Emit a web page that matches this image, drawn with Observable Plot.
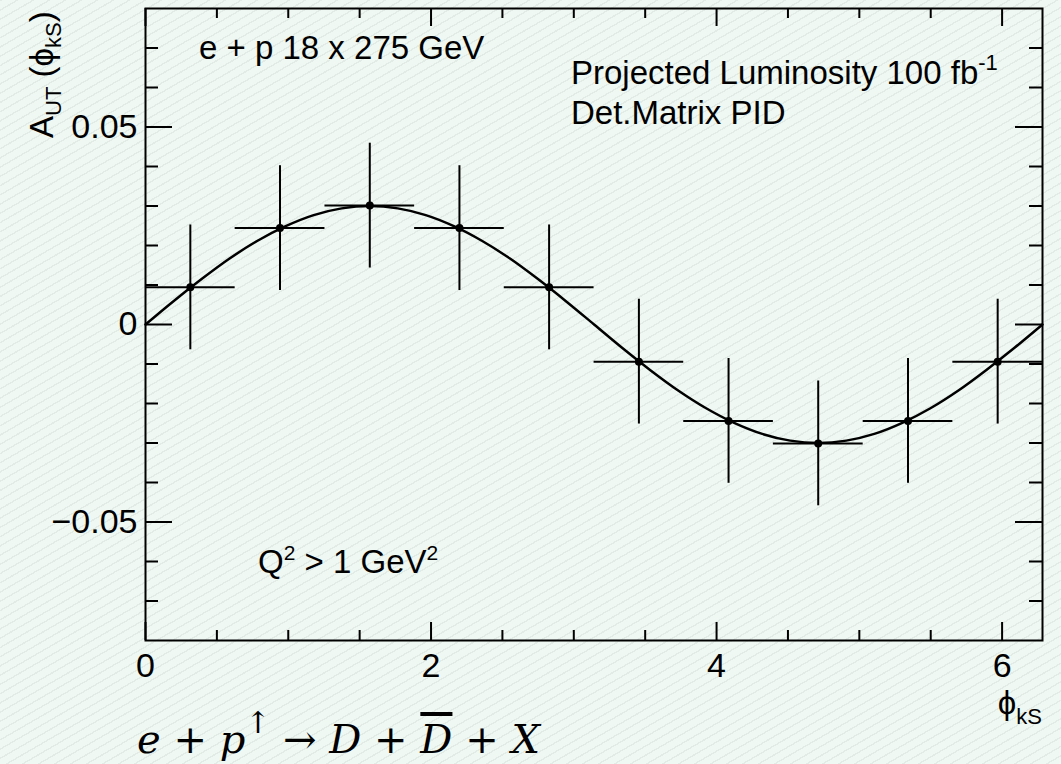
<!DOCTYPE html>
<html><head><meta charset="utf-8">
<script src="https://cdn.jsdelivr.net/npm/d3@7"></script>
<script src="https://cdn.jsdelivr.net/npm/@observablehq/plot@0.6"></script>
<style>
html,body{margin:0;padding:0;}
body{width:1061px;height:764px;overflow:hidden;background-color:#eff8f3;
background-image:repeating-linear-gradient(-30deg, #eff8f3 0px, #eff8f3 6.6px, #e2ebe6 6.6px, #e2ebe6 8px);}
#chart svg{background:transparent;display:block;}
</style></head>
<body><div id="chart"></div>
<script>
// Data
const binCenter = [0.314, 0.942, 1.571, 2.199, 2.827, 3.456, 4.084, 4.712, 5.341, 5.969];
const binLow    = [0.000, 0.628, 1.257, 1.885, 2.513, 3.142, 3.770, 4.398, 5.027, 5.655];
const binHigh   = [0.628, 1.257, 1.885, 2.513, 3.142, 3.770, 4.398, 5.027, 5.655, 6.283];
const asym      = [0.0094, 0.0244, 0.0301, 0.0244, 0.0094, -0.0094, -0.0244, -0.0301, -0.0244, -0.0094];
const asymErr   = [0.0158, 0.0158, 0.0158, 0.0158, 0.0158, 0.0158, 0.0158, 0.0158, 0.0158, 0.0158];
// fitted curve
const curveX = [0, 0.196, 0.393, 0.589, 0.785, 0.982, 1.178, 1.374, 1.571, 1.767, 1.963, 2.160, 2.356, 2.553, 2.749, 2.945, 3.142,
                3.338, 3.534, 3.731, 3.927, 4.123, 4.320, 4.516, 4.712, 4.909, 5.105, 5.301, 5.498, 5.694, 5.890, 6.087, 6.283];
const curveY = [0, 0.0059, 0.0115, 0.0167, 0.0212, 0.0249, 0.0277, 0.0294, 0.0300, 0.0294, 0.0277, 0.0249, 0.0212, 0.0167, 0.0115, 0.0059, 0,
                -0.0059, -0.0115, -0.0167, -0.0212, -0.0249, -0.0277, -0.0294, -0.0300, -0.0294, -0.0277, -0.0249, -0.0212, -0.0167, -0.0115, -0.0059, 0];
const yMajor = [-0.05, 0, 0.05];
const yMinor = [-0.07, -0.06, -0.04, -0.03, -0.02, -0.01, 0.01, 0.02, 0.03, 0.04, 0.06, 0.07];
const xMajor = [0, 2, 4, 6];
const xMinor = [0.5, 1, 1.5, 2.5, 3, 3.5, 4.5, 5, 5.5];
const yTickLabels = ["\u22120.05", "0", "0.05"];

const W = 1061, H = 764;
const mL = 145, mR = 19, mT = 8, mB = 124;
const pw = W - mL - mR, ph = H - mT - mB;

const pts = binCenter.map((x, i) => ({x, lo: binLow[i], hi: binHigh[i], y: asym[i], e: asymErr[i]}));
const curve = curveX.map((x, i) => ({x, y: curveY[i]}));

const FONT = "'Liberation Sans', Arial, Helvetica, sans-serif";

// rich text mark (sub/superscripts)
function richText(parts, {x, y, anchor = "start", rotate = 0, size = 33, family = FONT, style = "normal"}) {
  return () => {
    const t = d3.create("svg:text")
      .attr("transform", `translate(${x},${y}) rotate(${rotate})`)
      .attr("text-anchor", anchor)
      .attr("font-family", family)
      .attr("font-size", size)
      .attr("font-style", style)
      .attr("fill", "black");
    for (const p of parts) {
      const s = t.append("tspan").text(p.t);
      if (p.size) s.attr("font-size", p.size);
      if (p.dy) s.attr("dy", p.dy);
      if (p.dx) s.attr("dx", p.dx);
      if (p.style) s.attr("font-style", p.style);
      if (p.family) s.attr("font-family", p.family);
      if (p.deco) s.attr("text-decoration", p.deco);
    }
    return t.node();
  };
}

const chart = Plot.plot({
  width: W, height: H,
  marginLeft: mL, marginRight: mR, marginTop: mT, marginBottom: mB,
  style: {background: "transparent", fontFamily: FONT},
  x: {domain: [0, 6.283], axis: null},
  y: {domain: [-0.08, 0.08], axis: null},
  marks: [
    // tick labels
    Plot.axisY({ticks: yMajor, label: null, tickSize: 0, tickPadding: 8, tickFormat: (d, i) => yTickLabels[i], fontSize: 34, fill: "black"}),
    Plot.axisX({ticks: xMajor, label: null, tickSize: 0, tickPadding: 12, tickFormat: d => String(d), fontSize: 34, fill: "black"}),
    // inward ticks: left & right
    Plot.tickY(yMajor, {y: d => d, insetRight: pw - 27, stroke: "black", strokeWidth: 2}),
    Plot.tickY(yMinor, {y: d => d, insetRight: pw - 13, stroke: "black", strokeWidth: 2}),
    Plot.tickY(yMajor, {y: d => d, insetLeft: pw - 27, stroke: "black", strokeWidth: 2}),
    Plot.tickY(yMinor, {y: d => d, insetLeft: pw - 13, stroke: "black", strokeWidth: 2}),
    // bottom & top
    Plot.tickX(xMajor, {x: d => d, insetTop: ph - 18, stroke: "black", strokeWidth: 2}),
    Plot.tickX(xMinor, {x: d => d, insetTop: ph - 10, stroke: "black", strokeWidth: 2}),
    Plot.tickX(xMajor, {x: d => d, insetBottom: ph - 18, stroke: "black", strokeWidth: 2}),
    Plot.tickX(xMinor, {x: d => d, insetBottom: ph - 10, stroke: "black", strokeWidth: 2}),
    Plot.frame({stroke: "black", strokeWidth: 2}),
    // data
    Plot.ruleY(pts, {y: "y", x1: "lo", x2: "hi", stroke: "black", strokeWidth: 2}),
    Plot.ruleX(pts, {x: "x", y1: d => d.y - d.e, y2: d => d.y + d.e, stroke: "black", strokeWidth: 2}),
    Plot.line(curve, {x: "x", y: "y", stroke: "black", strokeWidth: 2.5, curve: "catmull-rom"}),
    Plot.dot(pts, {x: "x", y: "y", r: 4, fill: "black"}),
    // annotations
    richText([{t: "e + p 18 x 275 GeV"}], {x: 199, y: 59}),
    richText([{t: "Projected Luminosity 100 fb"}, {t: "-1", size: 22, dy: -14}], {x: 571, y: 84}),
    richText([{t: "Det.Matrix PID"}], {x: 571, y: 124}),
    richText([{t: "Q"}, {t: "2", size: 21, dy: -13}, {t: " > 1 GeV", dy: 13}, {t: "2", size: 21, dy: -13}], {x: 258, y: 573}),
    richText([{t: "A"}, {t: "UT", size: 22, dy: 8}, {t: " (\u03d5", dy: -8}, {t: "kS", size: 22, dy: 8}, {t: ")", dy: -8}], {x: 53, y: 138, rotate: -90, size: 33}),
    richText([{t: "\u03d5"}, {t: "kS", size: 22, dy: 10}], {x: 1042, y: 714, anchor: "end", size: 33}),
    richText([{t: "e", style: "italic"}, {t: " + "}, {t: "p", style: "italic"}, {t: "\u2191", size: 30, dy: -20}, {t: " \u2192 ", dy: 20}, {t: "D", style: "italic"},
              {t: " + "}, {t: "D", style: "italic", deco: "overline"}, {t: " + "}, {t: "X", style: "italic"}],
             {x: 137, y: 753, size: 40, family: "'DejaVu Serif', 'Liberation Serif', serif"})
  ]
});
document.getElementById("chart").append(chart);
</script>
</body></html>
